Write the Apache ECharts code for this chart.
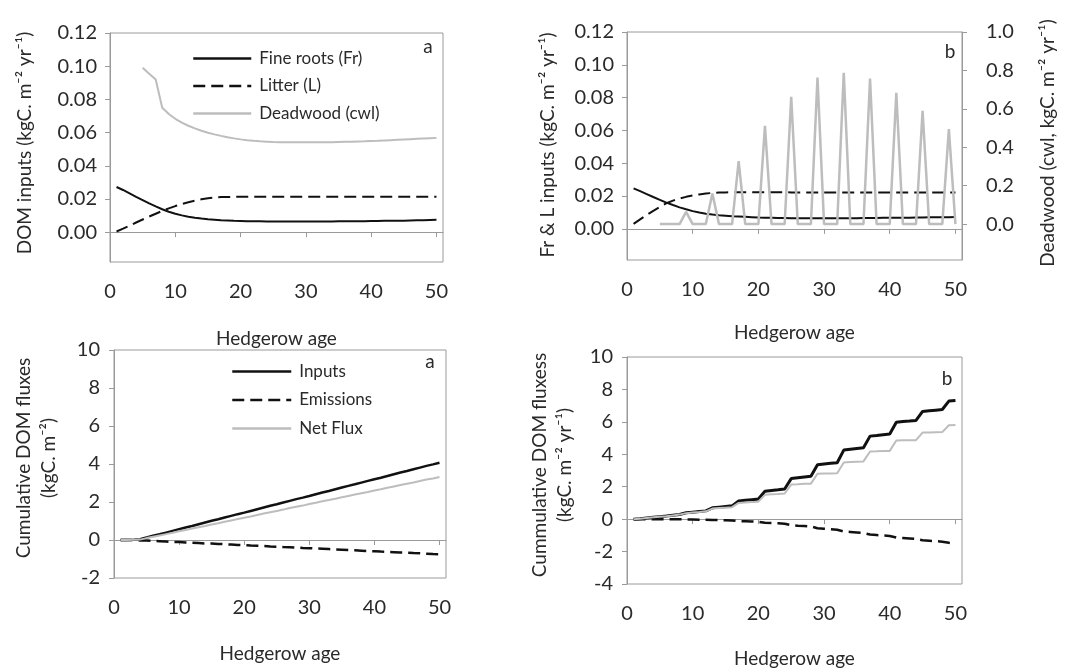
<!DOCTYPE html>
<html>
<head>
<meta charset="utf-8">
<script src="https://cdn.jsdelivr.net/npm/echarts@6/dist/echarts.min.js"></script>
<style>
  html, body { margin: 0; background: #fff; }
  #chart { width: 1075px; height: 669px; }
</style>
</head>
<body>
<div id="chart"></div>
<script>
// ---- data ----
const years = [1, 2, 3, 4, 5, 6, 7, 8, 9, 10, 11, 12, 13, 14, 15, 16, 17, 18, 19, 20,
  21, 22, 23, 24, 25, 26, 27, 28, 29, 30, 31, 32, 33, 34, 35, 36, 37, 38, 39, 40,
  41, 42, 43, 44, 45, 46, 47, 48, 49, 50];
const deadYears = [5, 6, 7, 8, 9, 10, 11, 12, 13, 14, 15, 16, 17, 18, 19, 20,
  21, 22, 23, 24, 25, 26, 27, 28, 29, 30, 31, 32, 33, 34, 35, 36, 37, 38, 39, 40,
  41, 42, 43, 44, 45, 46, 47, 48, 49, 50];

// panel a (top)
const fineRootsA = [0.0272, 0.0254, 0.0234, 0.0213, 0.0193, 0.0173, 0.0155, 0.0138, 0.0123, 0.0111,
  0.0101, 0.0093, 0.0087, 0.0082, 0.0078, 0.0075, 0.0072, 0.0070, 0.0068, 0.0067,
  0.0066, 0.0065, 0.0065, 0.0064, 0.0064, 0.0064, 0.0064, 0.0064, 0.0064, 0.0064,
  0.0064, 0.0064, 0.0064, 0.0064, 0.0065, 0.0065, 0.0065, 0.0066, 0.0066, 0.0067,
  0.0067, 0.0068, 0.0068, 0.0069, 0.0069, 0.0070, 0.0071, 0.0072, 0.0073, 0.0074];
const litterA = [0.0004, 0.0021, 0.0039, 0.0058, 0.0076, 0.0094, 0.0111, 0.0128, 0.0143, 0.0157,
  0.0169, 0.0180, 0.0190, 0.0198, 0.0204, 0.0208, 0.0211, 0.0212, 0.0213, 0.0213,
  0.0213, 0.0213, 0.0213, 0.0213, 0.0213, 0.0213, 0.0213, 0.0213, 0.0213, 0.0213,
  0.0213, 0.0213, 0.0213, 0.0213, 0.0213, 0.0213, 0.0213, 0.0213, 0.0213, 0.0213,
  0.0213, 0.0213, 0.0213, 0.0213, 0.0213, 0.0213, 0.0213, 0.0213, 0.0213, 0.0213];
const deadwoodA = [0.0990, 0.0955, 0.0920, 0.0750, 0.0712, 0.0683, 0.0660, 0.0641, 0.0625, 0.0611,
  0.0599, 0.0589, 0.0580, 0.0572, 0.0565, 0.0559, 0.0554, 0.0550, 0.0547, 0.0545,
  0.0543, 0.0542, 0.0541, 0.0541, 0.0541, 0.0541, 0.0541, 0.0541, 0.0542, 0.0542,
  0.0543, 0.0544, 0.0545, 0.0546, 0.0547, 0.0549, 0.0550, 0.0552, 0.0554, 0.0556,
  0.0558, 0.0560, 0.0562, 0.0564, 0.0566, 0.0568];

// panel b (top)
const fineRootsB = [0.0247, 0.0230, 0.0212, 0.0194, 0.0177, 0.0160, 0.0145, 0.0131, 0.0119, 0.0108,
  0.0099, 0.0092, 0.0087, 0.0083, 0.0080, 0.0077, 0.0075, 0.0073, 0.0071, 0.0069,
  0.0068, 0.0067, 0.0066, 0.0066, 0.0065, 0.0065, 0.0065, 0.0065, 0.0065, 0.0065,
  0.0065, 0.0065, 0.0065, 0.0065, 0.0065, 0.0066, 0.0066, 0.0066, 0.0067, 0.0067,
  0.0067, 0.0068, 0.0068, 0.0069, 0.0069, 0.0070, 0.0070, 0.0071, 0.0071, 0.0072];
const litterB = [0.0030, 0.0058, 0.0085, 0.0110, 0.0134, 0.0156, 0.0172, 0.0185, 0.0195, 0.0203,
  0.0210, 0.0215, 0.0219, 0.0221, 0.0222, 0.0223, 0.0223, 0.0223, 0.0223, 0.0223,
  0.0223, 0.0223, 0.0223, 0.0223, 0.0222, 0.0222, 0.0222, 0.0222, 0.0222, 0.0222,
  0.0222, 0.0222, 0.0222, 0.0222, 0.0222, 0.0222, 0.0222, 0.0222, 0.0222, 0.0222,
  0.0222, 0.0222, 0.0222, 0.0222, 0.0222, 0.0222, 0.0222, 0.0222, 0.0222, 0.0222];
const deadwoodB = [0, 0, 0, 0, 0.064, 0, 0, 0, 0.159, 0,
  0, 0, 0.328, 0, 0, 0, 0.511, 0, 0, 0,
  0.662, 0, 0, 0, 0.763, 0, 0, 0, 0.787, 0,
  0, 0, 0.757, 0, 0, 0, 0.683, 0, 0, 0,
  0.589, 0, 0, 0, 0.494, 0];

// panel a (bottom)
const inputsA = [0, 0, 0.01, 0.04, 0.13, 0.22, 0.30, 0.39, 0.48, 0.57,
  0.66, 0.74, 0.83, 0.92, 1.01, 1.09, 1.18, 1.27, 1.36, 1.44,
  1.53, 1.62, 1.71, 1.80, 1.88, 1.97, 2.06, 2.15, 2.23, 2.32,
  2.41, 2.50, 2.58, 2.67, 2.76, 2.85, 2.93, 3.02, 3.11, 3.20,
  3.28, 3.37, 3.46, 3.55, 3.63, 3.72, 3.81, 3.90, 3.98, 4.07];
const emissionsA = [0, 0, 0, -0.02, -0.03, -0.05, -0.06, -0.08, -0.10, -0.11,
  -0.13, -0.14, -0.16, -0.18, -0.19, -0.21, -0.22, -0.24, -0.26, -0.27,
  -0.29, -0.30, -0.32, -0.34, -0.35, -0.37, -0.38, -0.40, -0.42, -0.43,
  -0.45, -0.46, -0.48, -0.50, -0.51, -0.53, -0.54, -0.56, -0.58, -0.59,
  -0.61, -0.62, -0.64, -0.66, -0.67, -0.69, -0.70, -0.72, -0.74, -0.75];
const netFluxA = [0, 0, 0.01, 0.02, 0.10, 0.17, 0.24, 0.31, 0.38, 0.46,
  0.53, 0.60, 0.67, 0.74, 0.82, 0.88, 0.96, 1.03, 1.10, 1.17,
  1.24, 1.32, 1.39, 1.46, 1.53, 1.60, 1.68, 1.75, 1.81, 1.89,
  1.96, 2.04, 2.10, 2.17, 2.25, 2.32, 2.39, 2.46, 2.53, 2.61,
  2.67, 2.75, 2.82, 2.89, 2.96, 3.03, 3.11, 3.18, 3.24, 3.32];

// panel b (bottom)
const inputsB = [0, 0.03, 0.07, 0.11, 0.15, 0.19, 0.24, 0.29, 0.39, 0.43,
  0.47, 0.51, 0.70, 0.74, 0.78, 0.82, 1.12, 1.16, 1.20, 1.24,
  1.72, 1.77, 1.81, 1.86, 2.50, 2.55, 2.60, 2.64, 3.36, 3.40,
  3.44, 3.48, 4.26, 4.31, 4.36, 4.41, 5.12, 5.16, 5.21, 5.25,
  5.98, 6.02, 6.05, 6.09, 6.64, 6.68, 6.72, 6.76, 7.28, 7.32];
const emissionsB = [0, 0, 0, 0, 0, -0.01, -0.01, -0.01, -0.02, -0.02,
  -0.03, -0.03, -0.05, -0.06, -0.07, -0.08, -0.12, -0.13, -0.14, -0.16,
  -0.22, -0.24, -0.26, -0.28, -0.37, -0.40, -0.42, -0.45, -0.56, -0.59,
  -0.62, -0.65, -0.76, -0.79, -0.82, -0.85, -0.95, -0.98, -1.01, -1.04,
  -1.13, -1.16, -1.19, -1.22, -1.30, -1.33, -1.36, -1.39, -1.46, -1.52];
const netFluxB = [0, 0.03, 0.07, 0.11, 0.15, 0.18, 0.23, 0.28, 0.37, 0.41,
  0.44, 0.48, 0.65, 0.68, 0.71, 0.74, 1.00, 1.03, 1.06, 1.08,
  1.50, 1.53, 1.55, 1.58, 2.13, 2.15, 2.18, 2.19, 2.80, 2.81,
  2.82, 2.83, 3.50, 3.52, 3.54, 3.56, 4.17, 4.18, 4.20, 4.21,
  4.85, 4.86, 4.86, 4.87, 5.34, 5.35, 5.36, 5.37, 5.79, 5.80];

// ticks
const xTicks = [0, 10, 20, 30, 40, 50];
const domTicks = [0, 0.02, 0.04, 0.06, 0.08, 0.10, 0.12];
const deadTicks = [0, 0.2, 0.4, 0.6, 0.8, 1.0];
const cumTicksA = [-2, 0, 2, 4, 6, 8, 10];
const cumTicksB = [-4, -2, 0, 2, 4, 6, 8, 10];

// ---- styling ----
const FONT = 'Lato, "Open Sans", sans-serif';
const AXIS = '#9a9a9a';
const TXT = '#2a2a2a';
const BLACK = '#111';
const GREY = '#bdbdbd';
const DASH = [12, 6];

function pairs(xs, ys) {
  return xs.map((x, i) => [x, ys[i]]);
}

function xAxisFor(gridIndex, gap) {
  return {
    type: 'value', gridIndex: gridIndex, min: 0, max: 51,
    axisLine: { show: true, lineStyle: { color: AXIS } },
    axisTick: { show: true, length: 5, customValues: xTicks, lineStyle: { color: AXIS } },
    axisLabel: { customValues: xTicks, fontSize: 20, fontFamily: FONT, color: TXT, margin: 20 },
    splitLine: { show: false },
    name: 'Hedgerow age', nameLocation: 'middle', nameGap: gap,
    nameTextStyle: { fontSize: 19, fontFamily: FONT, color: TXT }
  };
}

function yAxisFor(gridIndex, min, max, ticks, fmt, pos, margin) {
  return {
    type: 'value', gridIndex: gridIndex, min: min, max: max, position: pos || 'left',
    axisLine: { show: true, lineStyle: { color: AXIS } },
    axisTick: { show: true, length: 5, customValues: ticks, lineStyle: { color: AXIS } },
    axisLabel: { customValues: ticks, fontSize: 20, fontFamily: FONT, color: TXT, margin: margin || 13, formatter: fmt },
    splitLine: { show: false }
  };
}

function line(name, xi, yi, data, color, width, type) {
  return {
    name: name, type: 'line', xAxisIndex: xi, yAxisIndex: yi, data: data,
    symbol: 'none', silent: true,
    lineStyle: { color: color, width: width, type: type || 'solid' },
    itemStyle: { color: color }
  };
}

function label(text, x, y, rot, extra) {
  return {
    type: 'text', x: x, y: y, rotation: rot || 0,
    style: Object.assign({
      text: text, fill: TXT, font: '19px ' + FONT,
      textAlign: 'center', textVerticalAlign: 'middle'
    }, extra || {})
  };
}

const chart = echarts.init(document.getElementById('chart'), null, { renderer: 'canvas' });

chart.setOption({
  backgroundColor: '#fff',
  animation: false,
  grid: [
    { left: 110, top: 33, width: 333, height: 229, show: true, borderColor: AXIS, borderWidth: 1 },
    { left: 627, top: 32, width: 335, height: 228, show: true, borderColor: AXIS, borderWidth: 1 },
    { left: 114, top: 350, width: 332, height: 228, show: true, borderColor: AXIS, borderWidth: 1 },
    { left: 627, top: 357, width: 335, height: 228, show: true, borderColor: AXIS, borderWidth: 1 }
  ],
  xAxis: [xAxisFor(0, 67), xAxisFor(1, 63), xAxisFor(2, 66), xAxisFor(3, 65)],
  yAxis: [
    yAxisFor(0, -0.018, 0.12, domTicks, v => v.toFixed(2)),
    yAxisFor(1, -0.019, 0.12, domTicks, v => v.toFixed(2)),
    yAxisFor(1, -0.187, 1.0, deadTicks, v => v.toFixed(1), 'right', 24),
    yAxisFor(2, -2, 10, cumTicksA, v => String(v), 'left', 14),
    yAxisFor(3, -4, 10, cumTicksB, v => String(v), 'left', 14)
  ],
  legend: [
    {
      orient: 'vertical', left: 187, top: 45, itemWidth: 58, itemHeight: 14, itemGap: 10.5,
      data: ['Fine roots (Fr)', 'Litter (L)', 'Deadwood (cwl)'],
      selectedMode: false,
      itemStyle: { opacity: 0 },
      lineStyle: { width: 2.5 },
      textStyle: { fontSize: 17, fontFamily: FONT, color: TXT, lineHeight: 14, padding: [0, 0, 0, 3] }
    },
    {
      orient: 'vertical', left: 226, top: 358, itemWidth: 59, itemHeight: 14, itemGap: 11.5,
      data: ['Inputs', 'Emissions', 'Net Flux'],
      selectedMode: false,
      itemStyle: { opacity: 0 },
      lineStyle: { width: 2.5 },
      textStyle: { fontSize: 17, fontFamily: FONT, color: TXT, lineHeight: 14, padding: [0, 0, 0, 3] }
    }
  ],
  series: [
    line('Fine roots (Fr)', 0, 0, pairs(years, fineRootsA), BLACK, 2),
    line('Litter (L)', 0, 0, pairs(years, litterA), BLACK, 2, DASH),
    line('Deadwood (cwl)', 0, 0, pairs(deadYears, deadwoodA), GREY, 2),

    line('Fr b', 1, 1, pairs(years, fineRootsB), BLACK, 2),
    line('L b', 1, 1, pairs(years, litterB), BLACK, 2, DASH),
    line('cwl b', 1, 2, pairs(deadYears, deadwoodB), GREY, 2.5),

    line('Inputs', 2, 3, pairs(years, inputsA), BLACK, 2.5),
    line('Emissions', 2, 3, pairs(years, emissionsA), BLACK, 2.5, DASH),
    line('Net Flux', 2, 3, pairs(years, netFluxA), GREY, 2),

    line('Inputs b', 3, 4, pairs(years, inputsB), BLACK, 3),
    line('Emissions b', 3, 4, pairs(years, emissionsB), BLACK, 2.5, DASH),
    line('Net Flux b', 3, 4, pairs(years, netFluxB), GREY, 2)
  ],
  graphic: [
    label('a', 428, 47),
    label('b', 950, 52),
    label('a', 430, 362),
    label('b', 947, 379),
    label('DOM inputs (kgC. m⁻² yr⁻¹)', 25, 143, Math.PI / 2),
    label('Fr & L inputs (kgC. m⁻² yr⁻¹)', 548, 145, Math.PI / 2),
    label('Deadwood (cwl, kgC. m⁻² yr⁻¹)', 1048, 143, Math.PI / 2),
    label('Cumulative DOM fluxes\n(kgC. m⁻²)', 36, 458, Math.PI / 2, { lineHeight: 25 }),
    label('Cummulative DOM fluxess\n(kgC. m⁻² yr⁻¹)', 552, 465, Math.PI / 2, { lineHeight: 25 })
  ]
});
</script>
</body>
</html>
